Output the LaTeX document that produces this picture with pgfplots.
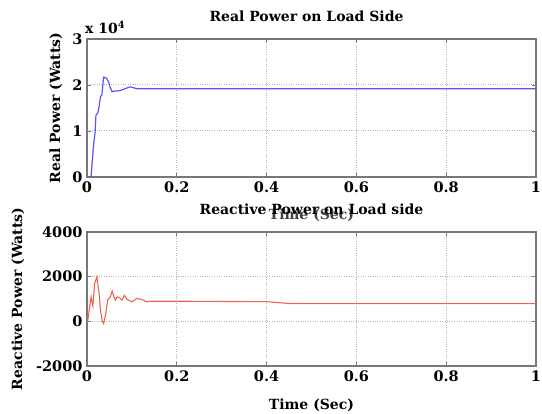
\documentclass[border=0pt]{standalone}
\usepackage{fontspec}
\setmainfont{DejaVu Serif}
\usepackage{pgfplots}
\pgfplotsset{compat=1.18}
\definecolor{pblue}{RGB}{85,85,250}
\definecolor{pred}{RGB}{238,100,75}
\definecolor{frame}{RGB}{120,120,120}
\pgfplotsset{
  myaxis/.style={
    scale only axis,
    width=449pt,
    xmin=0, xmax=1,
    xtick={0,0.2,0.4,0.6,0.8,1},
    grid=major,
    major grid style={dotted, gray!60, line width=1pt},
    axis line style={frame, line width=1.3pt},
    tick style={frame, line width=0.8pt},
    tick align=inside,
    major tick length=4pt,
    /pgf/number format/assume math mode=true,
    /pgf/number format/set thousands separator={},
    tick label style={font=\bfseries\fontsize{14.5}{15}\selectfont},
    xticklabel style={yshift=-1pt},
    yticklabel style={xshift=-1pt},
    label style={font=\bfseries\fontsize{14}{15}\selectfont},
    title style={font=\bfseries\fontsize{14}{15}\selectfont},
  }
}
\begin{document}
\begin{tikzpicture}[x=1pt,y=1pt]
\useasboundingbox (0,0) rectangle (542,414);
\begin{axis}[myaxis, name=top,
  at={(87pt,237pt)}, anchor=south west,
  height=138pt,
  ymin=0, ymax=3, ytick={0,1,2,3},
  ylabel={Real Power (Watts)},
  ylabel style={at={(axis description cs:0,0.5)}, anchor=center, yshift=31pt},
  xlabel={Time (Sec)},
  xlabel style={at={(axis description cs:0.5,0)}, anchor=center, yshift=-38pt, text=black!75},
  title={Real Power on Load Side},
  title style={at={(axis description cs:0.5,1)}, anchor=center, yshift=17pt, xshift=-5pt},
]
\addplot[pblue, line width=1.2pt] coordinates {
(0,0) (0.009,0) (0.012,0.38) (0.015,0.74) (0.018,0.96) (0.020,1.35) (0.024,1.39)
(0.027,1.53) (0.030,1.75) (0.033,1.78) (0.035,1.97) (0.037,2.17) (0.043,2.15)
(0.048,2.07) (0.052,1.94) (0.056,1.85) (0.061,1.87) (0.067,1.87) (0.074,1.88)
(0.085,1.92) (0.096,1.96) (0.104,1.94) (0.111,1.92) (0.2,1.92) (0.4,1.92)
(0.6,1.92) (0.8,1.92) (1,1.92)
};
\end{axis}
\node[anchor=south west, inner sep=0pt, font=\bfseries\fontsize{14}{14}\selectfont]
  at ([yshift=5pt,xshift=-2pt]top.north west) {x 10\textsuperscript{4}};
\begin{axis}[myaxis,
  at={(87pt,48pt)}, anchor=south west,
  height=134pt,
  ymin=-2000, ymax=4000, ytick={-2000,0,2000,4000},
  ylabel={Reactive Power (Watts)},
  ylabel style={at={(axis description cs:0,0.5)}, anchor=center, yshift=69pt},
  xlabel={Time (Sec)},
  xlabel style={at={(axis description cs:0.5,0)}, anchor=center, yshift=-39pt},
  title={Reactive Power on Load side},
  title style={at={(axis description cs:0.5,1)}, anchor=center, yshift=17pt},
]
\addplot[pred, line width=1.1pt] coordinates {
(0,0) (0.0015,0) (0.004,365) (0.009,1095) (0.013,686) (0.017,1679) (0.022,2000)
(0.027,1241) (0.030,511) (0.034,0) (0.037,-100) (0.042,365) (0.046,950)
(0.052,1095) (0.056,1358) (0.059,1168) (0.063,950) (0.067,1095) (0.072,1070)
(0.078,950) (0.083,1168) (0.089,980) (0.100,876) (0.111,1022) (0.122,980)
(0.133,876) (0.141,900) (0.2,900) (0.3,890) (0.4,880) (0.45,800) (0.5,790)
(0.6,790) (0.8,790) (1,790)
};
\end{axis}
\end{tikzpicture}
\end{document}
